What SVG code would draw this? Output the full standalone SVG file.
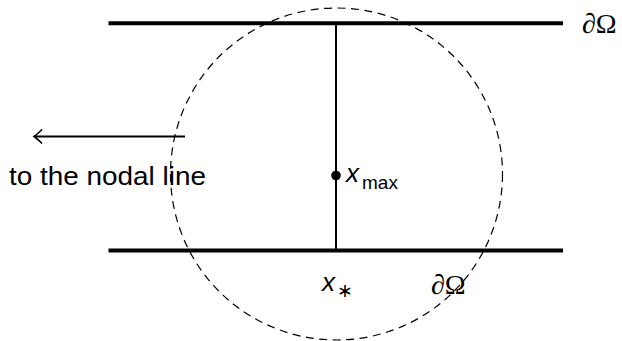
<svg xmlns="http://www.w3.org/2000/svg" width="622" height="341" viewBox="0 0 622 341">
<style>
.thick{stroke:#000;stroke-width:4;fill:none}
.thin{stroke:#000;stroke-width:2;fill:none}
.dash{stroke:#000;stroke-width:1.2;fill:none;stroke-dasharray:8 5.5}
.sans{font-family:"Liberation Sans",Arial,sans-serif;fill:#000}
.serif{font-family:"Liberation Serif","Times New Roman",serif;fill:#000}
</style>
<defs>
<marker id="arr" markerWidth="12" markerHeight="16" refX="9" refY="8" orient="auto" markerUnits="userSpaceOnUse">
<path d="M1,1 Q6,6 9,8 Q6,10 1,15" stroke="#000" stroke-width="1.6" fill="none"/>
</marker>
</defs>
<g id="connectors">
<line class="thin" x1="185" y1="136.5" x2="34" y2="136.5" marker-end="url(#arr)"/>
</g>
<g id="boundary-top"><line class="thick" x1="108.5" y1="23.3" x2="563" y2="23.3"/></g>
<g id="boundary-bottom"><line class="thick" x1="108.5" y1="250.5" x2="563" y2="250.5"/></g>
<g id="segment"><line class="thin" x1="336" y1="23" x2="336" y2="250"/></g>
<g id="ball"><circle class="dash" cx="336.5" cy="174" r="166"/></g>
<g id="xmax">
<circle cx="336" cy="175.5" r="4.8" fill="#000"/>
<text class="sans" x="346" y="182" font-size="26" font-style="italic">x</text>
<text class="sans" x="362" y="189" font-size="19">max</text>
</g>
<g id="xstar">
<text class="sans" x="322" y="291" font-size="26" font-style="italic">x</text>
<text class="sans" x="337" y="297" font-size="19">∗</text>
</g>
<g id="label-top"><text class="serif" x="582" y="33" font-size="28">∂Ω</text></g>
<g id="label-bottom"><text class="serif" x="431" y="294" font-size="28">∂Ω</text></g>
<g id="nodal"><text class="sans" x="9" y="185" font-size="26" textLength="197" lengthAdjust="spacingAndGlyphs">to the nodal line</text></g>
</svg>
